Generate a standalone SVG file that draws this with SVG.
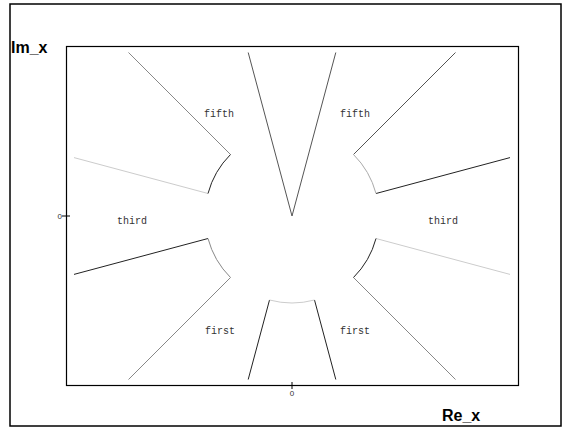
<svg xmlns="http://www.w3.org/2000/svg" width="563" height="428" viewBox="0 0 563 428">
<style>
.lbl{font-family:"Liberation Mono","DejaVu Sans Mono",monospace;font-size:10px;fill:#333;text-anchor:middle}
.ax{font-family:"Liberation Sans",Arial,sans-serif;font-size:16px;font-weight:bold;fill:#000}
.tk{font-family:"Liberation Sans",Arial,sans-serif;font-size:8px;fill:#333}
.c path,.c line{fill:none;stroke-width:1}
.d{stroke:#222}
.m{stroke:#555}
.g{stroke:#888}
.l{stroke:#ccc}
</style>
<rect x="0" y="0" width="563" height="428" fill="#fff"/>
<rect id="frame" x="10" y="4" width="551" height="422" fill="none" stroke="#000" stroke-width="1.5"/>
<g id="plot">
<rect x="66.5" y="46.5" width="452" height="339" fill="none" stroke="#000" stroke-width="1.2"/>
<line x1="62" y1="216" x2="70" y2="216" stroke="#000" stroke-width="1"/>
<line x1="292" y1="382" x2="292" y2="389" stroke="#000" stroke-width="1"/>
<text class="tk" x="62" y="219" text-anchor="end">0</text>
<text class="tk" x="292" y="396" text-anchor="middle">0</text>
</g>
<text id="ylabel" class="ax" x="11" y="53">Im_x</text>
<text id="xlabel" class="ax" x="442" y="421">Re_x</text>
<g id="connectors" class="c">
<line class="d" x1="376" y1="193.5" x2="510" y2="157.6"/>
<line class="m" x1="353.5" y1="154.5" x2="455.5" y2="52.5"/>
<line class="m" x1="292" y1="216" x2="335.8" y2="52.5"/>
<line class="m" x1="292" y1="216" x2="248.2" y2="52.5"/>
<line class="g" x1="230.5" y1="154.5" x2="128.5" y2="52.5"/>
<line class="l" x1="208" y1="193.5" x2="74" y2="157.6"/>
<line class="d" x1="208" y1="238.5" x2="74" y2="274.4"/>
<line class="g" x1="230.5" y1="277.5" x2="128.5" y2="379.5"/>
<line class="d" x1="269.5" y1="300" x2="248.2" y2="379.5"/>
<line class="d" x1="314.5" y1="300" x2="335.8" y2="379.5"/>
<line class="g" x1="353.5" y1="277.5" x2="455.5" y2="379.5"/>
<line class="l" x1="376" y1="238.5" x2="510" y2="274.4"/>
<path class="g" style="stroke:#aaa" d="M376,193.5 A87,87 0 0 0 353.5,154.5"/>
<path class="d" d="M230.5,154.5 A87,87 0 0 0 208,193.5"/>
<path class="g" d="M208,238.5 A87,87 0 0 0 230.5,277.5"/>
<path class="l" d="M269.5,300 A87,87 0 0 0 314.5,300"/>
<path class="d" d="M353.5,277.5 A87,87 0 0 0 376,238.5"/>
</g>
<g id="labels">
<text class="lbl" x="219" y="117">fifth</text>
<text class="lbl" x="355" y="117">fifth</text>
<text class="lbl" x="132" y="224">third</text>
<text class="lbl" x="443" y="224">third</text>
<text class="lbl" x="220" y="334">first</text>
<text class="lbl" x="355" y="334">first</text>
</g>
</svg>
